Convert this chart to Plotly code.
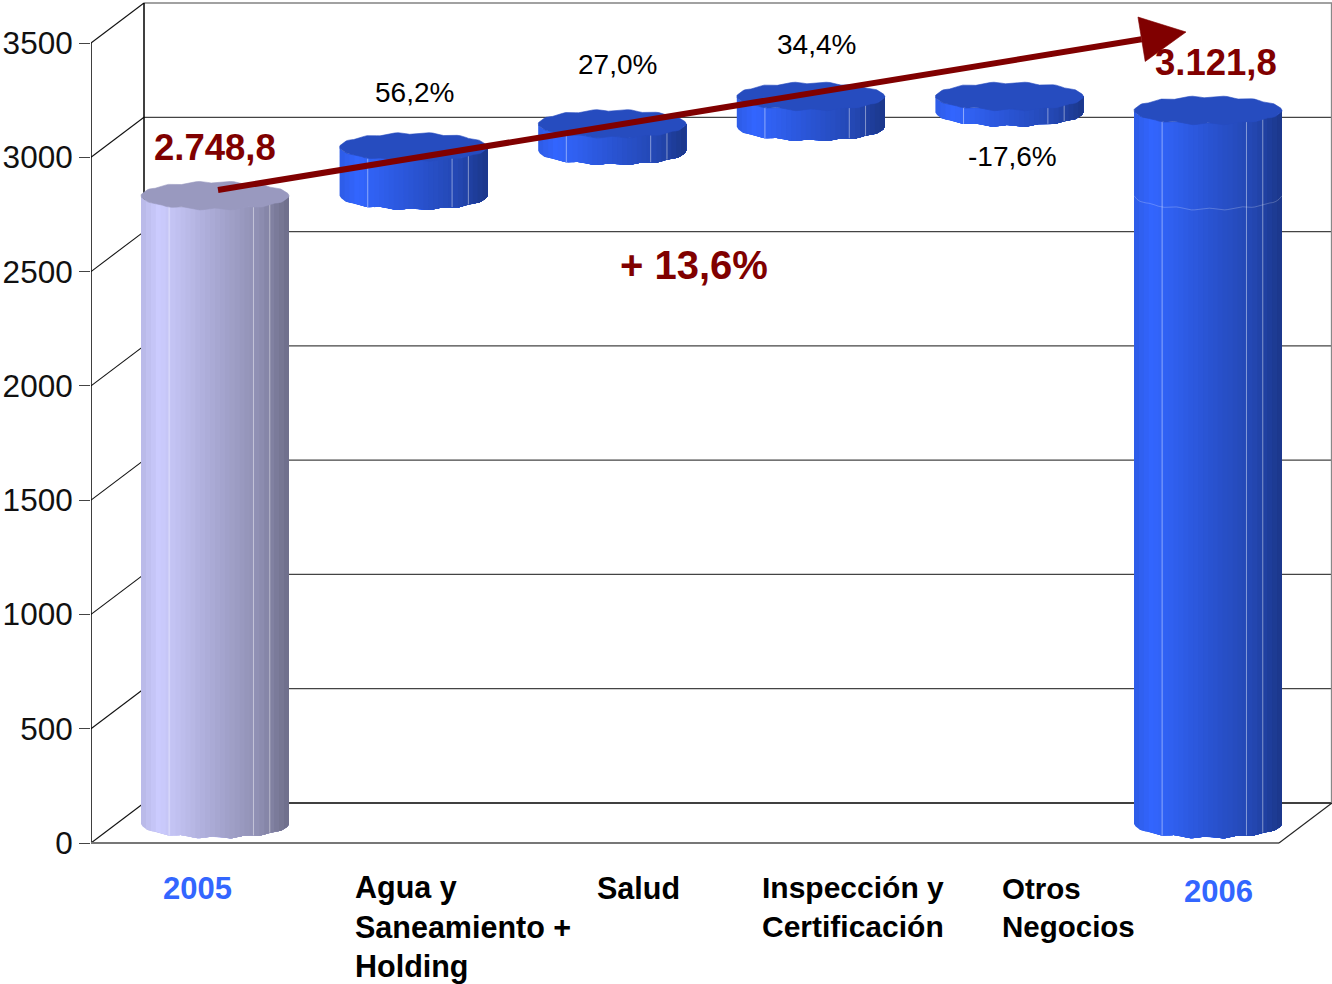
import numpy as np
import plotly.graph_objects as go

# ---- chart data -------------------------------------------------------
categories = ["2005", "Agua y<br>Saneamiento +<br>Holding", "Salud",
              "Inspección y<br>Certificación", "Otros<br>Negocios", "2006"]
bar_bottoms = [0, 2748.8, 2945.0, 3050.0, 3113.0, 0]
bar_tops = [2748.8, 2962.0, 3063.0, 3183.0, 3183.0, 3121.8]
bar_base_colors = [(204, 204, 255), (51, 102, 255), (51, 102, 255),
                   (51, 102, 255), (51, 102, 255), (51, 102, 255)]
pct_labels = ["56,2%", "27,0%", "34,4%", "-17,6%"]
y_ticks = [0, 500, 1000, 1500, 2000, 2500, 3000, 3500]
total_labels = ["2.748,8", "3.121,8"]
growth_label = "+ 13,6%"

# ---- geometry: picture pixels <-> axis units ---------------------------
W, H = 1332, 984
PX_PER_CAT = 198.6
CAT0_PX = 215.0
PX_PER_UNIT = 800 / 3500
ZERO_PX = 843.0
AXIS_PX = 91.0


def ix(px):
    return (px - CAT0_PX) / PX_PER_CAT


def iy(py):
    return (ZERO_PX - py) / PX_PER_UNIT


DEPTH_X = 53 / PX_PER_CAT
DEPTH_Y = 40 / PX_PER_UNIT
FLOOR_OFFSET = 19 / PX_PER_UNIT     # cylinders stand mid-way on the floor
RX = 74 / PX_PER_CAT
RY = 13.5 / PX_PER_UNIT
RIPPLE = 0.08

fig = go.Figure()


def line(xs, ys, color="#000000", width=1.3):
    fig.add_trace(go.Scatter(x=xs, y=ys, mode="lines", line=dict(color=color, width=width),
                             hoverinfo="skip", showlegend=False))


def poly(xs, ys, color, width=0.6):
    fig.add_trace(go.Scatter(x=xs, y=ys, mode="lines", fill="toself", fillcolor=color,
                             line=dict(color=color, width=width), hoverinfo="skip", showlegend=False))


# ---- walls and grid ----------------------------------------------------
x_left, x_right = ix(AXIS_PX), ix(1279)
for t in y_ticks:
    line([x_left, x_left + DEPTH_X], [t, t + DEPTH_Y], "#111111", 1.1)
    if t > 0:
        line([x_left + DEPTH_X, ix(W)], [t + DEPTH_Y, t + DEPTH_Y], "#444444", 1.2)
line([x_left + DEPTH_X, ix(W)], [DEPTH_Y, DEPTH_Y], "#000000", 1.6)
line([x_left + DEPTH_X, x_left + DEPTH_X], [DEPTH_Y, 3500 + DEPTH_Y], "#000000", 1.5)
line([ix(W) - 0.002, ix(W) - 0.002], [DEPTH_Y, 3500 + DEPTH_Y], "#888888", 1.5)
line([x_left, x_left], [0, 3500], "#000000", 1.5)
line([x_left, x_right], [0, 0], "#777777", 2)
line([x_right, x_right + DEPTH_X], [0, DEPTH_Y], "#222222", 1.1)

# ---- cylinders ---------------------------------------------------------
RAMP_F = [0, 0.12, 0.5, 0.8, 1.0]
RAMP_V = [0.9, 1.0, 0.83, 0.7, 0.54]
FACETS = [0.19, 0.76, 0.87]


def shade(base, k):
    return "rgb(%d,%d,%d)" % tuple(int(c * k) for c in base)


def edge(f):
    """Front-of-ellipse drop for a fraction f across the cylinder, slightly scalloped."""
    th = np.arccos(np.clip(2 * f - 1, -1, 1))
    return RY * np.sin(th) * (1 + RIPPLE * np.cos(14 * th))


for i, (lo, hi, base) in enumerate(zip(bar_bottoms, bar_tops, bar_base_colors)):
    y0 = lo + FLOOR_OFFSET
    y1 = hi + FLOOR_OFFSET
    fr = np.linspace(0, 1, 31)
    for a, b in zip(fr[:-1], fr[1:]):
        # painter's order: each band runs to the right edge, so no seams between bands
        sub = np.linspace(a, 1, max(3, int(round((1 - a) * 90))))
        xs = i + RX * (2 * sub - 1)
        e = edge(sub)
        k = float(np.interp((a + b) / 2, RAMP_F, RAMP_V))
        poly(list(xs) + list(xs[::-1]), list(y1 - e) + list((y0 - e)[::-1]), shade(base, k), 0)
    for f in FACETS:
        xf = i + RX * (2 * f - 1)
        line([xf, xf], [y0 - edge(f), y1 - edge(f)], "rgba(255,255,255,0.45)", 1)
    th = np.linspace(0, 2 * np.pi, 121)
    poly(i + RX * np.cos(th), y1 + RY * np.sin(th) * (1 + RIPPLE * np.cos(14 * th)), shade(base, 0.75))

# faint seam on the 2006 cylinder, at the 2005 level
f_seam = np.linspace(0, 1, 50)
line(5 + RX * (2 * f_seam - 1), bar_tops[0] + FLOOR_OFFSET - edge(f_seam), "rgba(255,255,255,0.22)", 1)

# ---- trend arrow -------------------------------------------------------
arrow_start = (ix(218), iy(190))
arrow_end = (ix(1186), iy(32))
sx, sy = (arrow_start[0] * PX_PER_CAT, -arrow_start[1] * PX_PER_UNIT)
ex, ey = (arrow_end[0] * PX_PER_CAT, -arrow_end[1] * PX_PER_UNIT)
L = np.hypot(ex - sx, ey - sy)
ux, uy = (ex - sx) / L, (ey - sy) / L
head_l, head_w = 45, 22.5
bx, by = ex - ux * head_l, ey - uy * head_l
line([sx / PX_PER_CAT, bx / PX_PER_CAT], [-sy / PX_PER_UNIT, -by / PX_PER_UNIT], "#800000", 6)
hx = [ex, bx + uy * head_w, bx - uy * head_w, ex]
hy = [ey, by - ux * head_w, by + ux * head_w, ey]
poly([v / PX_PER_CAT for v in hx], [-v / PX_PER_UNIT for v in hy], "#800000")

# ---- text --------------------------------------------------------------
FONT = "Liberation Sans"


def text(px, py, s, size, color="#000000", bold=False, anchor="center"):
    fig.add_annotation(x=ix(px), y=iy(py), text=f"<b>{s}</b>" if bold else s, showarrow=False,
                       xanchor=anchor, yanchor="middle", align="left" if anchor == "left" else "center",
                       font=dict(family=FONT, size=size, color=color))


BLUE = "#3366FF"
DARK = "#800000"
text(197, 888, categories[0], 31, BLUE, True)
text(1218, 891, categories[5], 31, BLUE, True)
text(353, 927, categories[1], 30.5, "#000000", True, "left")
text(595, 888, categories[2], 30.5, "#000000", True, "left")
text(760, 907, categories[3], 30, "#000000", True, "left")
text(1000, 907, categories[4], 29.5, "#000000", True, "left")
text(414, 92, pct_labels[0], 28)
text(617, 64, pct_labels[1], 28)
text(816, 44, pct_labels[2], 28)
text(1012, 156, pct_labels[3], 28)
text(215, 147, total_labels[0], 36.5, DARK, True)
text(1216, 62, total_labels[1], 36.5, DARK, True)
text(694, 265, growth_label, 40, DARK, True)

# ---- layout ------------------------------------------------------------
fig.update_layout(
    width=W, height=H, autosize=False,
    margin=dict(l=0, r=0, t=0, b=0, autoexpand=False),
    paper_bgcolor="white", plot_bgcolor="white", showlegend=False,
    xaxis=dict(domain=[AXIS_PX / W, 1], range=[ix(AXIS_PX), ix(W)], visible=False, automargin=False),
    yaxis=dict(domain=[0, 1], range=[iy(H), iy(0)], showgrid=False, zeroline=False, showline=False,
               automargin=False,
               tickmode="array", tickvals=y_ticks, ticks="outside", ticklen=11, tickwidth=1.3,
               tickcolor="#444444", ticklabelstandoff=0,
               tickfont=dict(family=FONT, size=31.5, color="#111111")),
)
fig.write_html("out.html", config={"displayModeBar": False},
               post_script="document.body.style.margin='0';document.documentElement.style.overflow='hidden';")
